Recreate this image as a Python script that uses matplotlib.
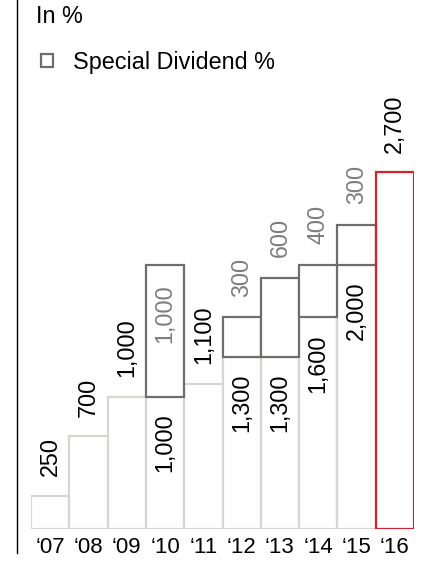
import matplotlib
matplotlib.use("Agg")
import matplotlib.pyplot as plt
from matplotlib.lines import Line2D
from matplotlib.patches import Rectangle

# Data
years = ["\u201807", "\u201808", "\u201809", "\u201810", "\u201811",
         "\u201812", "\u201813", "\u201814", "\u201815", "\u201816"]
base = [250, 700, 1000, 1000, 1100, 1300, 1300, 1600, 2000, 2700]
special = [0, 0, 0, 1000, 0, 300, 600, 400, 300, 0]
highlight = 9  # latest year drawn in red

plt.rcParams["font.family"] = ["Liberation Sans", "DejaVu Sans"]

LIGHT = "#d6d6d3"
DARK = "#6e6e70"
RED = "#d4222c"
SPEC_TXT = "#7d7d7d"
FS = 16.8
TICK_FS = 16

W, H = 427, 561
fig = plt.figure(figsize=(W / 100, H / 100), dpi=100)
ax = fig.add_axes([31 / W, 32 / H, 383 / W, 529 / H])
ax.set_xlim(-0.5, 9.5)
ax.set_ylim(0, 2700 * 529 / 357)
for s in ax.spines.values():
    s.set_visible(False)
ax.set_yticks([])
ax.set_xticks(range(len(years)))
ax.set_xticklabels(years, fontsize=TICK_FS)
ax.tick_params(axis="x", length=0, pad=6)

x = list(range(len(years)))
lw = 1.6

# base bars
for i in x:
    if i == highlight:
        continue
    ax.bar(i, base[i], width=1.0, facecolor="white", edgecolor=LIGHT,
           linewidth=lw, zorder=2)

# special dividend boxes stacked on top
for i in x:
    if special[i]:
        ax.bar(i, special[i], bottom=base[i], width=1.0, facecolor="white",
               edgecolor=DARK, linewidth=lw, zorder=3)

# highlighted year
ax.bar(highlight, base[highlight], width=1.0, facecolor="none",
       edgecolor=RED, linewidth=lw, zorder=4)


def fmt(v):
    return f"{v:,}"


for i in x:
    top = base[i] + special[i]
    if special[i] == 0:
        ax.annotate(fmt(base[i]), xy=(i, base[i]), xytext=(0, 14),
                    textcoords="offset points", rotation=90, ha="center",
                    va="bottom", fontsize=FS, color="black", zorder=5)
    else:
        # base value inside the bar, just below the box
        ax.annotate(fmt(base[i]), xy=(i, base[i]), xytext=(0, -12),
                    textcoords="offset points", rotation=90, ha="center",
                    va="top", fontsize=FS, color="black", zorder=5)
        if special[i] >= 1000:
            ax.annotate(fmt(special[i]), xy=(i, top), xytext=(0, -14),
                        textcoords="offset points", rotation=90, ha="center",
                        va="top", fontsize=FS, color=SPEC_TXT, zorder=5)
        else:
            ax.annotate(fmt(special[i]), xy=(i, top), xytext=(0, 15),
                        textcoords="offset points", rotation=90, ha="center",
                        va="bottom", fontsize=FS, color=SPEC_TXT, zorder=5)

# left rule
fig.add_artist(Line2D([17 / W, 17 / W], [8 / H, 1.0], transform=fig.transFigure,
                      color="black", linewidth=1.0))

# unit note and legend
fig.text(36 / W, 1 - 23 / H, "In %", fontsize=FS, va="baseline", ha="left")
fig.add_artist(Rectangle((41 / W, 1 - 67 / H), 12.5 / W, 13 / H,
                         transform=fig.transFigure, facecolor="white",
                         edgecolor=DARK, linewidth=lw))
fig.text(73 / W, 1 - 69 / H, "Special Dividend %", fontsize=FS,
         va="baseline", ha="left")

fig.savefig("out.png", dpi=100)
